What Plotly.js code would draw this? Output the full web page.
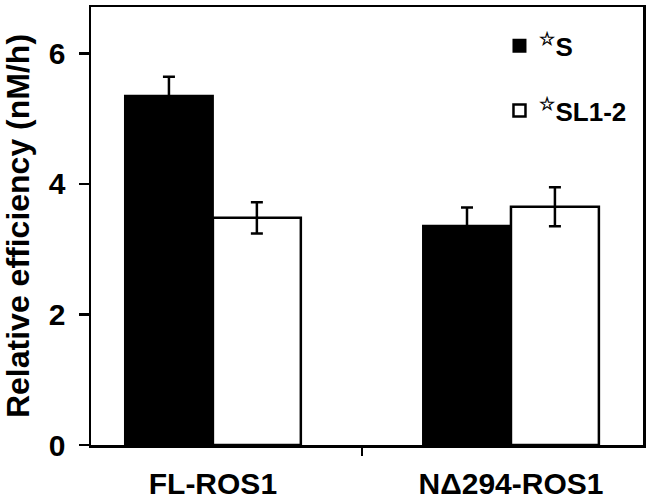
<!DOCTYPE html>
<html>
<head>
<meta charset="utf-8">
<script src="https://cdn.plot.ly/plotly-3.0.1.min.js"></script>
<style>
  body { margin: 0; background: #fff; }
  #plot { width: 650px; height: 501px; }
</style>
</head>
<body>
<div id="plot"></div>
<script>
// values (nM/h)
var constructs = ['FL-ROS1', 'N\u0394294-ROS1'];
var sValues = [5.35, 3.36];
var sErrors = [0.29, 0.28];
var slValues = [3.48, 3.65];
var slErrors = [0.24, 0.30];
var seriesNames = ['<sup>\u2606</sup>S', '<sup>\u2606</sup>SL1-2'];

var font = {family: 'Liberation Sans, Arial, sans-serif', color: '#000', weight: 'bold'};

var trace1 = {
    x: constructs,
    y: sValues,
    name: seriesNames[0],
    type: 'bar',
    legendgroup: 'a',
    marker: {color: '#000', line: {color: '#000', width: 2}},
    error_y: {type: 'data', array: sErrors, visible: true, color: '#000', thickness: 2.5, width: 6}
};

var trace2 = {
    x: constructs,
    y: slValues,
    name: seriesNames[1],
    type: 'bar',
    legendgroup: 'b',
    marker: {color: '#fff', line: {color: '#000', width: 2.5}},
    error_y: {type: 'data', array: slErrors, visible: true, color: '#000', thickness: 2.5, width: 6}
};

var data = [trace1, trace2];

var layout = {
    width: 650,
    height: 501,
    margin: {l: 91, r: 7, t: 7, b: 56},
    paper_bgcolor: '#fff',
    plot_bgcolor: '#fff',
    font: font,
    barmode: 'group',
    bargap: 0.41,
    bargroupgap: 0,
    showlegend: true,
    legend: {
        x: 0.74, y: 0.965, xanchor: 'left', yanchor: 'top',
        bgcolor: 'rgba(0,0,0,0)',
        font: {family: font.family, size: 26, color: '#000', weight: 'bold'},
        traceorder: 'grouped',
        tracegroupgap: 28
    },
    xaxis: {
        type: 'category',
        range: [-0.409, 1.443],
        tickson: 'boundaries',
        ticks: 'outside',
        ticklen: 8,
        tickwidth: 2.5,
        tickcolor: '#000',
        ticklabelstandoff: 10,
        showline: true,
        linecolor: '#000',
        linewidth: 2.5,
        mirror: true,
        showgrid: false,
        zeroline: false,
        tickfont: {family: font.family, size: 30, color: '#000', weight: 'bold'}
    },
    yaxis: {
        range: [0, 6.71],
        tickvals: [0, 2, 4, 6],
        ticks: 'outside',
        ticklen: 10,
        tickwidth: 2.5,
        tickcolor: '#000',
        ticklabelstandoff: 7,
        showline: true,
        linecolor: '#000',
        linewidth: 2.5,
        mirror: true,
        showgrid: false,
        zeroline: false,
        tickfont: {family: font.family, size: 30, color: '#000', weight: 'bold'},
        title: {
            text: 'Relative efficiency (nM/h)',
            standoff: 12,
            font: {family: font.family, size: 32, color: '#000', weight: 'bold'}
        }
    }
};

Plotly.newPlot('plot', data, layout, {staticPlot: true});
</script>
</body>
</html>
